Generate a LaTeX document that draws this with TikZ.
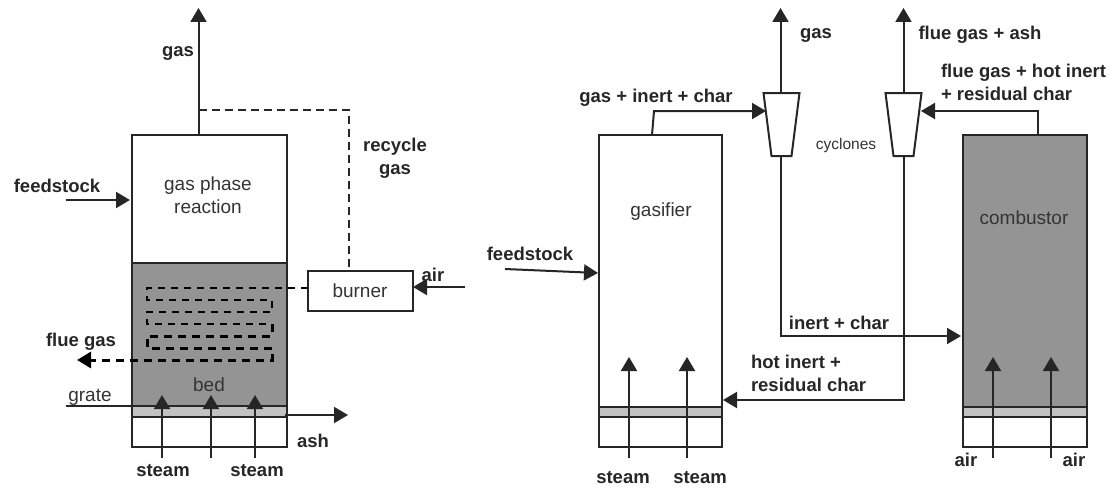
\documentclass[tikz,border=0pt]{standalone}
\usepackage{fontspec}
\setmainfont{Liberation Sans}
\usetikzlibrary{positioning,arrows.meta,shapes.geometric}

\begin{document}
\begin{tikzpicture}[x=1pt,y=-1pt,>={Triangle[length=14pt,width=16pt]},line width=2pt,
	color={black!85},
	vessel/.style={shape=rectangle,draw,inner sep=0pt,outer sep=0pt},
	bedfill/.style={vessel,fill={black!42}},
	gratefill/.style={vessel,fill={black!24}},
	cyclone/.style={shape=trapezium,draw,inner sep=0pt,outer sep=0pt,trapezium stretches=true,
		trapezium angle=68.2,shape border rotate=180,minimum width=36pt,minimum height=63pt},
	tag/.style={font=\fontsize{18.5}{23}\selectfont\bfseries,align=center,inner sep=0pt},
	plain/.style={font=\fontsize{19}{23}\selectfont,align=center,inner sep=0pt,text={black!80}},
	recycle/.style={dashed,dash pattern=on 8pt off 5pt,line width=1.7pt},
	thincoil/.style={dashed,dash pattern=on 7pt off 6pt,line width=1.8pt,color=black},
	thickcoil/.style={dashed,dash pattern=on 8pt off 6pt,line width=3pt,color=black}]
	\useasboundingbox (0,0) rectangle (1118,487);

	% create the left reactor.
	\node (phase) [vessel,minimum width=155pt,minimum height=128pt] at (209.5,199) {};
	\node (bed) [bedfill,minimum width=155pt,minimum height=143pt,below=0pt of phase] {};
	\node (grate) [gratefill,minimum width=155pt,minimum height=11pt,below=0pt of bed] {};
	\node (base) [vessel,minimum width=155pt,minimum height=30pt,below=0pt of grate] {};
	\node (burner) [vessel,font=\fontsize{19}{23}\selectfont,text={black!80},minimum width=105pt,minimum height=40pt] at (360,291) {burner};

	% create the gasifier and the combustor.
	\node (gasifier) [vessel,minimum width=123pt,minimum height=272pt] at (660.5,271) {};
	\node (gasgrate) [gratefill,minimum width=123pt,minimum height=10pt,below=0pt of gasifier] {};
	\node (gasbase) [vessel,minimum width=123pt,minimum height=30pt,below=0pt of gasgrate] {};
	\node (combustor) [bedfill,minimum width=124pt,minimum height=272pt] at (1025,271) {};
	\node (combgrate) [gratefill,minimum width=124pt,minimum height=10pt,below=0pt of combustor] {};
	\node (combbase) [vessel,minimum width=124pt,minimum height=30pt,below=0pt of combgrate] {};
	\node (cycgas) [cyclone] at (781.5,124.5) {\hspace{1pt}\rule{0pt}{1pt}};
	\node (cycflue) [cyclone] at (903.5,124.5) {\hspace{1pt}\rule{0pt}{1pt}};

	% create the free ends.
	\coordinate (gasout) at (198.5,8);
	\coordinate (gastap) at (198.5,110);
	\coordinate (gasroot) at (198.5,135);
	\coordinate (recyclecorner) at (349,110);
	\coordinate (recycleend) at (349,271);
	\coordinate (airin) at (465,287);
	\coordinate (airtip) at (413,287);
	\coordinate (feedin) at (66,200);
	\coordinate (feedtip) at (130,200);
	\coordinate (flueout) at (77,360);
	\coordinate (grateend) at (66,406);
	\coordinate (ashstart) at (285,415);
	\coordinate (ashout) at (348,415);
	\coordinate (feedgasin) at (505,269);
	\coordinate (feedgastip) at (598,273);
	\coordinate (gasfree) at (780.5,8);
	\coordinate (fluefree) at (903.5,8);
	\coordinate (riserroot) at (652,135);
	\coordinate (riserbend) at (654,111);
	\coordinate (risertip) at (766,111);
	\coordinate (combroot) at (1038,135);
	\coordinate (combbend) at (1038,111);
	\coordinate (combtip) at (921,111);
	\coordinate (charbend) at (780.5,336);
	\coordinate (chartip) at (961,336);
	\coordinate (hotbend) at (903.5,400);
	\coordinate (hottip) at (723,400);

	% connect the left reactor
	\draw[->] (gasroot) -- (gasout);
	\draw[recycle] (gastap) -- (recyclecorner) -- (recycleend);
	\draw[->] (airin) -- (airtip);
	\draw[->] (feedin) -- (feedtip);
	\draw (grateend) -- (287,406);
	\draw[->] (ashstart) -- (ashout);
	\draw[thincoil] (308,288) -- (147,288) -- (147,300) -- (272,300) -- (272,312) -- (147,312) -- (147,324) -- (272,324);
	\draw[thickcoil,->] (272,324) -- (272,336) -- (147,336) -- (147,348) -- (272,348) -- (272,360) -- (flueout);
	\draw[->] (162,458) -- (162,395);
	\draw[->] (211,458) -- (211,395);
	\draw[->] (255,458) -- (255,395);

	% connect the right side
	\draw[->] (feedgasin) -- (feedgastip);
	\draw[->] (riserroot) -- (riserbend) -- (risertip);
	\draw[->] (combroot) -- (combbend) -- (combtip);
	\draw[->] (780.5,93) -- (gasfree);
	\draw[->] (903.5,93) -- (fluefree);
	\draw[->] (780.5,156) -- (charbend) -- (chartip);
	\draw[->] (903.5,156) -- (hotbend) -- (hottip);
	\draw[->] (629,458) -- (629,357);
	\draw[->] (687,458) -- (687,357);
	\draw[->] (993,458) -- (993,357);
	\draw[->] (1051,458) -- (1051,357);

	% labels
	\node (lphase) [plain] at (208,195) {gas phase\\reaction};
	\node (lbed) [plain] at (209,385) {bed};
	\node (lgrate) [plain] at (90,397) {grate};
	\node (lgas) [tag] at (178,53) {gas};
	\node (lrecycle) [tag] at (395,158) {recycle\\gas};
	\node (lfeed) [tag] at (57,186) {feedstock};
	\node (lair) [tag] at (433,275) {air};
	\node (lflue) [tag] at (81,342) {flue gas};
	\node (lash) [tag] at (313,441) {ash};
	\node (lsteama) [tag] at (163,471) {steam};
	\node (lsteamb) [tag] at (257,471) {steam};
	\node (lgasifier) [plain] at (661,212) {gasifier};
	\node (lcomb) [plain] at (1024,218) {combustor};
	\node (lcyc) [plain,font=\fontsize{15.5}{18}\selectfont] at (846,145) {cyclones};
	\node (lfeedb) [tag] at (530,254) {feedstock};
	\node (lgasb) [tag] at (816,35) {gas};
	\node (lfluea) [tag] at (980,35) {flue gas + ash};
	\node (lflueb) [tag,align=left,anchor=west] at (940,82) {flue gas + hot inert\\+ residual char};
	\node (lmix) [tag] at (656,98) {gas + inert + char};
	\node (lchar) [tag] at (839,323) {inert + char};
	\node (lhot) [tag,align=left,anchor=west] at (750,373) {hot inert +\\residual char};
	\node (lsteamc) [tag] at (623,478) {steam};
	\node (lsteamd) [tag] at (700,478) {steam};
	\node (laira) [tag] at (966,460) {air};
	\node (lairb) [tag] at (1074,460) {air};
\end{tikzpicture}
\end{document}
